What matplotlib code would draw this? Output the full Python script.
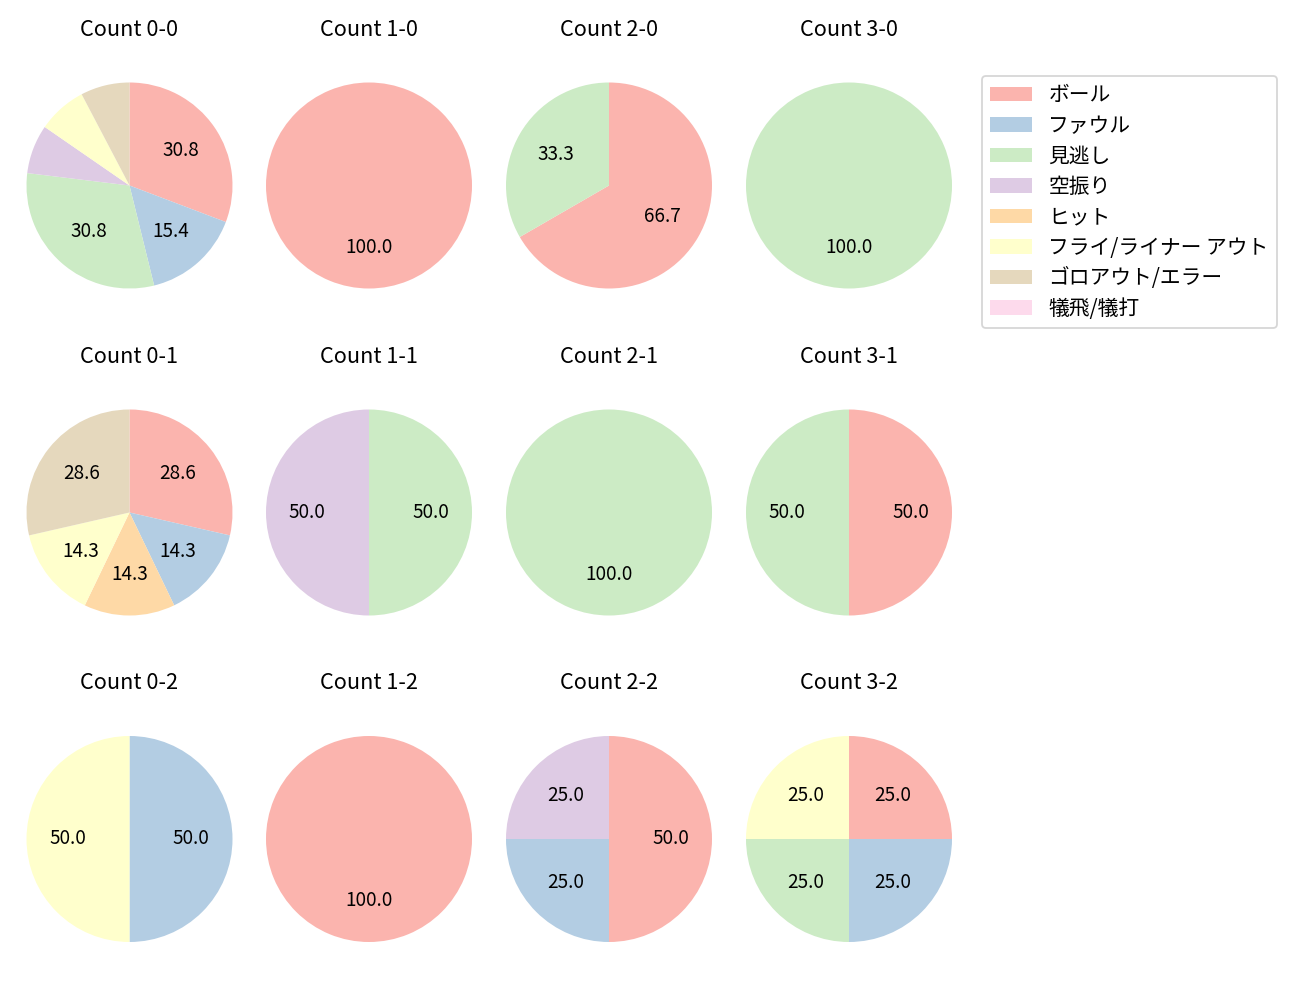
import matplotlib
matplotlib.use("Agg")
import matplotlib.pyplot as plt
from matplotlib.patches import Patch

plt.rcParams['font.family'] = ['Noto Sans CJK JP', 'DejaVu Sans']

categories = ['ボール', 'ファウル', '見逃し', '空振り', 'ヒット',
              'フライ/ライナー アウト', 'ゴロアウト/エラー', '犠飛/犠打']
colors = ['#fbb4ae', '#b3cde3', '#ccebc5', '#decbe4', '#fed9a6',
          '#ffffcc', '#e5d8bd', '#fddaec']

balls = [0, 1, 2, 3]
strikes = [0, 1, 2]

# counts per pitch result, order follows categories
count_0_0 = [4, 2, 4, 1, 0, 1, 1, 0]
count_1_0 = [1, 0, 0, 0, 0, 0, 0, 0]
count_2_0 = [2, 0, 1, 0, 0, 0, 0, 0]
count_3_0 = [0, 0, 1, 0, 0, 0, 0, 0]
count_0_1 = [2, 1, 0, 0, 1, 1, 2, 0]
count_1_1 = [0, 0, 1, 1, 0, 0, 0, 0]
count_2_1 = [0, 0, 1, 0, 0, 0, 0, 0]
count_3_1 = [1, 0, 1, 0, 0, 0, 0, 0]
count_0_2 = [0, 1, 0, 0, 0, 1, 0, 0]
count_1_2 = [1, 0, 0, 0, 0, 0, 0, 0]
count_2_2 = [2, 1, 0, 1, 0, 0, 0, 0]
count_3_2 = [1, 1, 1, 0, 0, 1, 0, 0]

data = {
    (0, 0): count_0_0, (1, 0): count_1_0, (2, 0): count_2_0, (3, 0): count_3_0,
    (0, 1): count_0_1, (1, 1): count_1_1, (2, 1): count_2_1, (3, 1): count_3_1,
    (0, 2): count_0_2, (1, 2): count_1_2, (2, 2): count_2_2, (3, 2): count_3_2,
}

W, H = 1300, 1000
fig = plt.figure(figsize=(W / 130, H / 130), dpi=130)

R = 103.0
col_cx = [129.5, 369.0, 609.0, 849.0]
row_cy = [185.5, 512.5, 839.0]
aw = 2.5 * R

for s in strikes:
    for b in balls:
        cx, cy = col_cx[b], row_cy[s]
        ax = fig.add_axes([(cx - aw / 2) / W, 1 - (cy + aw / 2) / H, aw / W, aw / H])
        vals = data[(b, s)]
        ax.pie(vals, colors=colors, startangle=90, counterclock=False,
               autopct=lambda p: f'{p:.1f}' if p > 10 else '',
               textprops={'fontsize': 10.5})
        ax.set_title(f'Count {b}-{s}', fontsize=12, pad=11.5)

handles = [Patch(facecolor=c, label=l) for c, l in zip(colors, categories)]
fig.legend(handles=handles, loc='upper left',
           bbox_to_anchor=(982 / W, 1 - 76 / H), borderaxespad=0,
           fontsize=11.5, labelspacing=0.41)

fig.savefig('out.png', dpi=130)
